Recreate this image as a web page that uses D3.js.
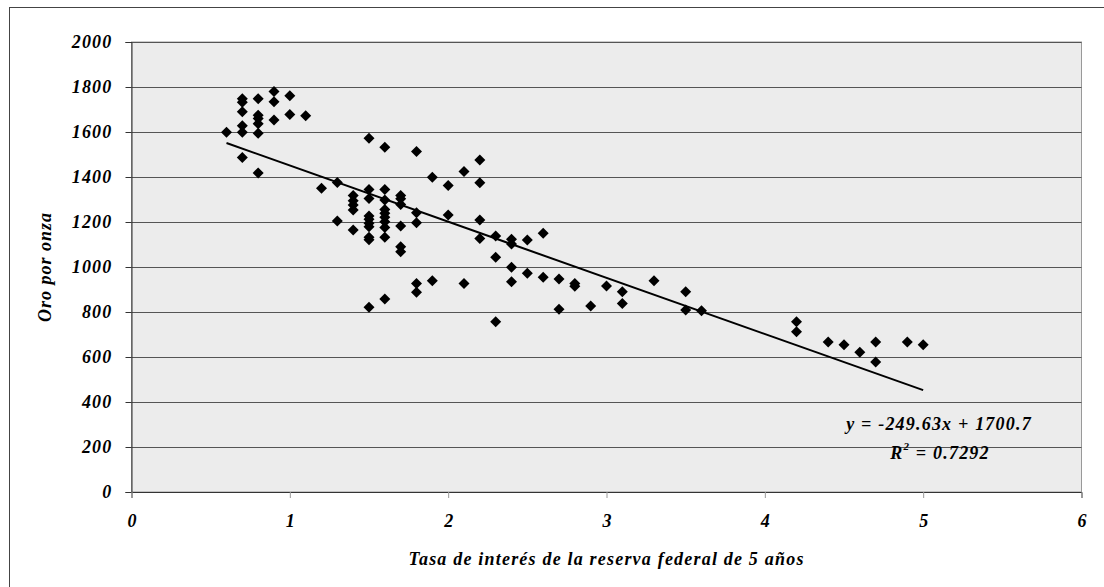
<!DOCTYPE html>
<html>
<head>
<meta charset="utf-8">
<script src="https://cdn.jsdelivr.net/npm/d3@7"></script>
<style>
  body { margin: 0; background: #fff; }
  svg text { font-family: "Liberation Serif", "Times New Roman", "DejaVu Serif", serif !important; font-weight: bold; font-style: italic; }
</style>
</head>
<body>
<div class="chart"></div>
<script>
// tasa (x) y oro (y)
const tasa = [
  0.6,
  0.7, 0.7, 0.7, 0.7, 0.7, 0.7,
  0.8, 0.8, 0.8, 0.8, 0.8, 0.8,
  0.9, 0.9, 0.9,
  1.0, 1.0, 1.1,
  1.2, 1.3, 1.3,
  1.4, 1.4, 1.4, 1.4, 1.4,
  1.5, 1.5, 1.5, 1.5, 1.5, 1.5, 1.5, 1.5, 1.5, 1.5,
  1.6, 1.6, 1.6, 1.6, 1.6, 1.6, 1.6, 1.6, 1.6, 1.6,
  1.7, 1.7, 1.7, 1.7, 1.7, 1.7,
  1.8, 1.8, 1.8, 1.8, 1.8,
  1.9, 1.9,
  2.0, 2.0,
  2.1, 2.1,
  2.2, 2.2, 2.2, 2.2,
  2.3, 2.3, 2.3,
  2.4, 2.4, 2.4, 2.4,
  2.5, 2.5,
  2.6, 2.6,
  2.7, 2.7,
  2.8, 2.8,
  2.9, 3.0,
  3.1, 3.1,
  3.3,
  3.5, 3.5,
  3.6,
  4.2, 4.2,
  4.4, 4.5, 4.6, 4.7, 4.7, 4.9, 5.0
];
const oro = [
  1599,
  1748, 1732, 1690, 1628, 1599, 1487,
  1748, 1675, 1660, 1637, 1594, 1418,
  1780, 1735, 1653,
  1761, 1678, 1672,
  1350, 1376, 1204,
  1318, 1295, 1276, 1253, 1164,
  1572, 1345, 1305, 1227, 1212, 1194, 1179, 1132, 1121, 821,
  1532, 1345, 1298, 1256, 1239, 1221, 1201, 1176, 1132, 858,
  1318, 1303, 1278, 1182, 1090, 1068,
  1513, 1241, 1197, 927, 888,
  1399, 939,
  1362, 1231,
  1424, 927,
  1476, 1375, 1209, 1127,
  1138, 1043, 757,
  1123, 1102, 999, 934,
  1120, 972,
  1150, 954,
  947, 812,
  927, 914,
  827, 916,
  890, 838,
  939,
  890, 809,
  806,
  757, 712,
  667, 655, 621, 667, 578, 667, 655
];
const yTicks = [0, 200, 400, 600, 800, 1000, 1200, 1400, 1600, 1800, 2000];
const xTicks = [0, 1, 2, 3, 4, 5, 6];
const pendiente = -249.63, intercepto = 1700.7;
const tendX = [0.6, 5.0];

const W = 1104, H = 587;
const svg = d3.select(".chart").append("svg")
  .attr("width", W)
  .attr("height", H);

// marco exterior (solo se ven arriba e izquierda)
svg.append("rect")
  .attr("x", 9.5).attr("y", 7.5)
  .attr("width", 1110).attr("height", 600)
  .attr("fill", "#fff")
  .attr("stroke", "#444").attr("stroke-width", 1);

const x = d3.scaleLinear().domain([0, 6]).range([131.5, 1081.5]);
const y = d3.scaleLinear().domain([0, 2000]).range([492, 42]);

// area del grafico
svg.append("rect")
  .attr("x", x(0)).attr("y", y(2000))
  .attr("width", x(6) - x(0)).attr("height", y(0) - y(2000))
  .attr("fill", "#ececec")
  .attr("stroke", "#999");

// lineas de cuadricula
svg.append("g")
  .selectAll("line")
  .data(yTicks.filter(d => d > 0))
  .enter()
  .append("line")
  .attr("x1", x(0)).attr("x2", x(6))
  .attr("y1", d => Math.round(y(d)) + 0.5)
  .attr("y2", d => Math.round(y(d)) + 0.5)
  .attr("stroke", "#555")
  .attr("stroke-width", 1);

const yAxis = d3.axisLeft(y)
  .tickValues(yTicks)
  .tickSize(6)
  .tickPadding(13)
  .tickFormat(d3.format("d"));
const gy = svg.append("g")
  .attr("transform", `translate(${x(0)},0)`)
  .call(yAxis);
gy.attr("font-family", null);
gy.select(".domain").attr("stroke", "#333");
gy.selectAll(".tick line").attr("stroke", "#333");
gy.selectAll(".tick text")
  .attr("font-size", 18)
  .attr("letter-spacing", 1.2)
  .attr("fill", "#000");

const xAxis = d3.axisBottom(x)
  .tickValues(xTicks)
  .tickSize(6)
  .tickPadding(16)
  .tickFormat(d3.format("d"));
const gx = svg.append("g")
  .attr("transform", `translate(0,${y(0)})`)
  .call(xAxis);
gx.attr("font-family", null);
gx.select(".domain").attr("stroke", "#333");
gx.selectAll(".tick line").attr("stroke", "#999");
gx.selectAll(".tick text")
  .attr("font-size", 18)
  .attr("fill", "#000");

// linea de tendencia
svg.append("line")
  .attr("x1", x(tendX[0])).attr("y1", y(intercepto + pendiente * tendX[0]))
  .attr("x2", x(tendX[1])).attr("y2", y(intercepto + pendiente * tendX[1]))
  .attr("stroke", "#000")
  .attr("stroke-width", 2);

// puntos (rombos)
const diamond = "M0,-5.5L5.5,0L0,5.5L-5.5,0Z";
svg.append("g")
  .selectAll("path")
  .data(tasa.map((t, i) => ({ t: t, o: oro[i] })))
  .enter()
  .append("path")
  .attr("d", diamond)
  .attr("transform", d => `translate(${x(d.t)},${y(d.o)})`)
  .attr("fill", "#000");

// ecuacion
svg.append("text")
  .attr("x", 939).attr("y", 430)
  .attr("text-anchor", "middle")
  .attr("font-size", 18)
  .attr("letter-spacing", 1.2)
  .text("y = -249.63x + 1700.7");

const r2 = svg.append("text")
  .attr("x", 940).attr("y", 459)
  .attr("text-anchor", "middle")
  .attr("font-size", 18)
  .attr("letter-spacing", 1.2);
r2.append("tspan").text("R");
r2.append("tspan").attr("dy", -9).attr("font-size", 11).text("2");
r2.append("tspan").attr("dy", 9).text(" = 0.7292");

// titulos de ejes
svg.append("text")
  .attr("x", (x(0) + x(6)) / 2)
  .attr("y", 565)
  .attr("text-anchor", "middle")
  .attr("font-size", 18)
  .attr("letter-spacing", 1.2)
  .text("Tasa de interés de la reserva federal de 5 años");

svg.append("text")
  .attr("transform", "translate(51,267) rotate(-90)")
  .attr("text-anchor", "middle")
  .attr("font-size", 18)
  .attr("letter-spacing", 1)
  .text("Oro por onza");
</script>
</body>
</html>
